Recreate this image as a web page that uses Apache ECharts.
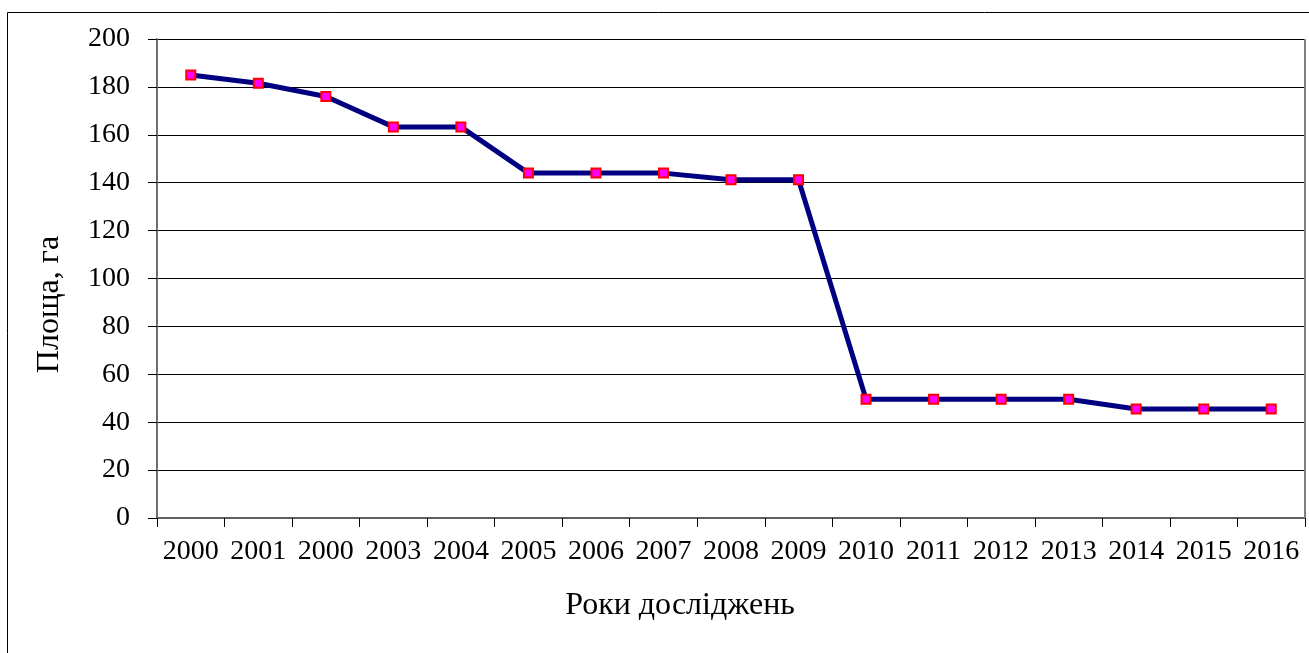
<!DOCTYPE html>
<html><head><meta charset="utf-8">
<script src="https://cdn.jsdelivr.net/npm/echarts@6/dist/echarts.min.js"></script>
<style>html,body{margin:0;padding:0;background:#fff}#c{width:1309px;height:653px}</style>
</head><body><div id="c"></div>
<script>
const categories = ['2000','2001','2000','2003','2004','2005','2006','2007','2008','2009','2010','2011','2012','2013','2014','2015','2016'];
const areaValues = [185, 181.5, 176, 163.3, 163.3, 144, 144, 144, 141.2, 141.2, 49.6, 49.6, 49.6, 49.6, 45.5, 45.5, 45.5];
const yTicks = {min: 0, max: 200, interval: 20};
const yName = 'Площа, га';
const xName = 'Роки досліджень';

const font = 'Liberation Serif, Times New Roman, serif';
const chart = echarts.init(document.getElementById('c'), null, {renderer: 'canvas'});
chart.setOption({
  animation: false,
  backgroundColor: '#fff',
  textStyle: {fontFamily: font},
  graphic: [
    {type: 'rect', shape: {x: 7.5, y: 12.5, width: 1320, height: 700}, style: {fill: 'none', stroke: '#000', lineWidth: 1}, z: -1},
    {type: 'line', shape: {x1: 1305, y1: 39, x2: 1305, y2: 518}, style: {stroke: '#808080', lineWidth: 2}, z: 10}
  ],
  grid: {left: 157, right: 4, top: 39, bottom: 135, containLabel: false},
  xAxis: {
    type: 'category', data: categories, boundaryGap: true,
    name: xName, nameLocation: 'middle', nameGap: 72,
    nameTextStyle: {fontSize: 32, color: '#000', fontFamily: font, padding: [0, 102, 0, 0]},
    axisLine: {lineStyle: {color: '#606060', width: 2}},
    axisTick: {show: true, length: 9, alignWithLabel: false, lineStyle: {color: '#000', width: 1}},
    axisLabel: {fontSize: 28, color: '#000', fontFamily: font, margin: 20, interval: 0},
    splitLine: {show: false}
  },
  yAxis: {
    type: 'value', min: yTicks.min, max: yTicks.max, interval: yTicks.interval,
    name: yName, nameLocation: 'middle', nameGap: 91, nameRotate: 90,
    nameTextStyle: {fontSize: 32, color: '#000', fontFamily: font, padding: [0, 52, 0, 0]},
    axisLine: {show: true, lineStyle: {color: '#707070', width: 2}},
    axisTick: {show: true, length: 9, lineStyle: {color: '#000', width: 1}},
    axisLabel: {fontSize: 28, color: '#000', fontFamily: font, margin: 27},
    splitLine: {show: true, lineStyle: {color: '#000', width: 1}}
  },
  series: [{
    type: 'line', data: areaValues,
    lineStyle: {color: '#000080', width: 5},
    itemStyle: {color: '#FF00FF', borderColor: '#FF0000', borderWidth: 2},
    symbol: 'rect', symbolSize: 9, showSymbol: true
  }]
});
</script></body></html>
